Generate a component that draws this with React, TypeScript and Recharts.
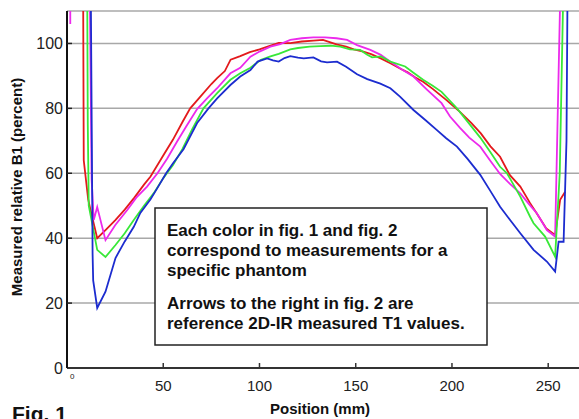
import React from "react";
import { CartesianGrid, Line, LineChart, XAxis, YAxis } from "recharts";

// positions in mm, values in percent
const redX = [8.3, 8.7, 11, 12.2, 15.7, 20, 25, 30, 35, 40, 43.4, 50, 55, 60, 64, 69.3, 75, 78, 82, 85, 90, 95, 100, 105, 110, 116, 122, 128, 133, 140, 145, 149, 154, 158, 163, 168, 173, 177, 181, 185, 190, 197, 204, 210, 215, 220, 225, 230, 235.5, 240.6, 244, 249, 253.6, 256.2, 258.8];
const redY = [130, 64, 52, 48.7, 40, 42.5, 45.5, 48.8, 52.5, 56.5, 59, 65.5, 70.3, 75.8, 80, 83.6, 87.5, 89.3, 91.5, 95, 96.1, 97.3, 98.2, 99.2, 100.2, 100.1, 100.6, 100.9, 101.1, 99.7, 99, 98.2, 97.5, 96.7, 95.4, 93.9, 92.3, 91.1, 89.5, 88.2, 86, 82.6, 79, 75.5, 72.3, 68.3, 65.1, 59.5, 55.9, 50.8, 47.7, 43, 41, 51.8, 54.3];

const magentaX = [1.7, 1.7, 5, 11.6, 12.8, 13.9, 15.7, 20, 25, 31.3, 36, 41.6, 47, 52, 57.2, 62, 67.6, 73, 78, 84.9, 90, 95.3, 100, 105.7, 110.8, 116, 122, 128, 134, 140, 145.5, 150.7, 157.6, 163, 168, 174, 180, 187, 194.6, 199, 204.3, 209, 214.7, 220, 225, 230, 235.5, 240, 244.1, 249.3, 253.6, 256.8];
const magentaY = [125, 106, null, 130, 58, 45.6, 49.6, 39.4, 44, 48.7, 52.5, 55.9, 60, 64.5, 69.8, 74.5, 79.8, 83.2, 86.2, 90.8, 92.5, 95.9, 97.5, 99, 99.8, 101.1, 101.6, 101.9, 101.9, 101.6, 101.1, 99.5, 98, 96.5, 94.4, 92, 89.8, 85.8, 81.6, 77.5, 73.9, 71, 68.2, 63.8, 59.8, 56.8, 53.8, 50.5, 47.7, 42.5, 40.5, 130];

const greenX = [10.4, 10.8, 11.3, 15.7, 20, 25.2, 30, 34.7, 40, 45, 50, 55, 60, 65, 70.9, 78, 84.9, 90, 95.3, 100.5, 105.7, 110, 116, 120, 126, 131.6, 137, 142, 147, 152.3, 156, 158.5, 163, 168, 175.7, 180, 185, 190, 194.6, 202.6, 208, 214.7, 220, 225, 228.6, 235.5, 240.6, 242.4, 248.4, 253.6, 256, 258.3];
const greenY = [130, 75, 50, 36.4, 34.2, 37.9, 41.5, 45.6, 50, 53.8, 58.5, 62.5, 67.5, 73.5, 80, 84.7, 88.8, 90.8, 92.5, 94.9, 96, 96.8, 98.2, 98.6, 99, 99.2, 99.3, 99, 98.2, 98, 96.5, 95.7, 96, 94.4, 92.9, 91, 88.8, 87, 85.1, 80, 76, 71, 66.5, 62, 60, 52.8, 46.6, 44.6, 40.5, 34.3, 60, 130];

const blueX = [12.2, 13.3, 13.6, 15.7, 20, 25.2, 30, 34.7, 38.1, 43.4, 47, 51.5, 55, 60.6, 67.6, 73.5, 78, 84.9, 90, 95.3, 99, 104, 107, 110, 113, 116, 120, 123, 128, 132, 135.1, 140.3, 145, 150.7, 156, 162.8, 168, 173, 180, 186, 192.2, 197, 202.6, 208, 214.7, 220, 225, 230.3, 235.5, 242.4, 249.3, 253.6, 255.4, 258, 259.5, 260.2];
const blueY = [130, 35, 27, 18.5, 23.5, 33.9, 39, 43.5, 47.8, 52, 55.5, 60, 63, 67.5, 75.5, 80, 83.1, 87.2, 89.8, 91.8, 94.4, 95.4, 94.8, 94.4, 95.5, 96.1, 95.6, 95.4, 95.7, 94.5, 94.2, 94.4, 92.8, 90.5, 89, 87.6, 86.2, 83.6, 79.5, 76.5, 73.3, 70.8, 68.2, 64.5, 59.5, 54.5, 49.7, 45.5, 41.5, 36.4, 32.8, 29.7, 38.9, 38.9, 70, 130];

const xTicks = [0, 50, 100, 150, 200, 250];
const yTicks = [0, 20, 40, 60, 80, 100];

const noteLines = [
  "Each color in fig. 1 and fig. 2",
  "correspond to measurements for a",
  "specific phantom",
  "Arrows to the right in fig. 2 are",
  "reference 2D-IR measured T1 values.",
];

const toPoints = (xs: number[], ys: (number | null)[]) =>
  xs.map((x, i) => ({ x, y: ys[i] }));

const series = [
  { name: "red", color: "#e3191c", data: toPoints(redX, redY) },
  { name: "magenta", color: "#ec2aec", data: toPoints(magentaX, magentaY) },
  { name: "green", color: "#38e838", data: toPoints(greenX, greenY) },
  { name: "blue", color: "#1c2ccf", data: toPoints(blueX, blueY) },
];

const FONT = "'Liberation Sans', Arial, sans-serif";

const XTick = (props: any) => {
  const { x, y, payload } = props;
  if (payload.value === 0) {
    return (
      <text x={x + 3} y={y - 1} fontSize={8} fill="#222" fontFamily={FONT}>
        0
      </text>
    );
  }
  return (
    <g>
      <line x1={x} x2={x} y1={y - 12} y2={y - 17} stroke="#333" strokeWidth={1.5} />
      <text x={x} y={y + 11} textAnchor="middle" fontSize={15} fill="#222" fontFamily={FONT}>
        {payload.value}
      </text>
    </g>
  );
};

const YTick = (props: any) => {
  const { x, y, payload } = props;
  return (
    <g>
      {payload.value !== 0 && (
        <line x1={x + 4} x2={x + 9} y1={y} y2={y} stroke="#222" strokeWidth={1.5} />
      )}
      <text x={x} y={y} dy="0.36em" textAnchor="end" fontSize={16} fill="#222" fontFamily={FONT}>
        {payload.value}
      </text>
    </g>
  );
};

export default function App() {
  return (
    <div style={{ position: "absolute", left: 0, top: 0, width: 579, height: 419, background: "#fff", overflow: "hidden" }}>
      <LineChart width={579} height={419} margin={{ top: 11, right: 0, bottom: 0, left: 0 }}>
        <CartesianGrid vertical={false} stroke="#a8a8a8" strokeWidth={1.5} />
        <XAxis
          dataKey="x"
          type="number"
          domain={[0, 266]}
          allowDataOverflow
          ticks={xTicks}
          height={51}
          tickSize={0}
          tickMargin={12}
          tick={XTick}
          stroke="#333"
          strokeWidth={2}
          interval={0}
        />
        <XAxis
          xAxisId="top"
          dataKey="x"
          type="number"
          orientation="top"
          domain={[0, 266]}
          ticks={xTicks}
          height={0}
          mirror
          tickSize={4}
          tick={() => <g />}
          stroke="#999"
          strokeWidth={1.5}
          interval={0}
        />
        <YAxis
          type="number"
          domain={[0, 110]}
          allowDataOverflow
          ticks={yTicks}
          width={67}
          tickSize={0}
          tickMargin={4}
          tick={YTick}
          stroke="#111"
          strokeWidth={2}
          interval={0}
        />
        {series.map((s) => (
          <Line
            key={s.name}
            data={s.data}
            dataKey="y"
            type="linear"
            stroke={s.color}
            strokeWidth={1.8}
            dot={false}
            activeDot={false}
            isAnimationActive={false}
          />
        ))}
      </LineChart>
      <svg width={579} height={419} style={{ position: "absolute", left: 0, top: 0, pointerEvents: "none" }}>
        <rect x={155} y={208} width={332} height={137} fill="#fff" stroke="#222" strokeWidth={1.5} />
        {noteLines.map((line, i) => (
          <text
            key={line}
            x={167}
            y={[236, 256, 276, 309, 329][i]}
            fontSize={17}
            fontWeight="bold"
            fill="#111"
            fontFamily={FONT}
          >
            {line}
          </text>
        ))}
        <text
          transform="translate(22,187) rotate(-90)"
          textAnchor="middle"
          fontSize={15}
          fontWeight="bold"
          fill="#111"
          fontFamily={FONT}
        >
          Measured relative B1 (percent)
        </text>
        <text x={320} y={414} textAnchor="middle" fontSize={15} fontWeight="bold" fill="#111" fontFamily={FONT}>
          Position (mm)
        </text>
        <text x={12} y={421} fontSize={21} fontWeight="bold" fill="#111" fontFamily={FONT}>
          Fig. 1
        </text>
      </svg>
    </div>
  );
}
